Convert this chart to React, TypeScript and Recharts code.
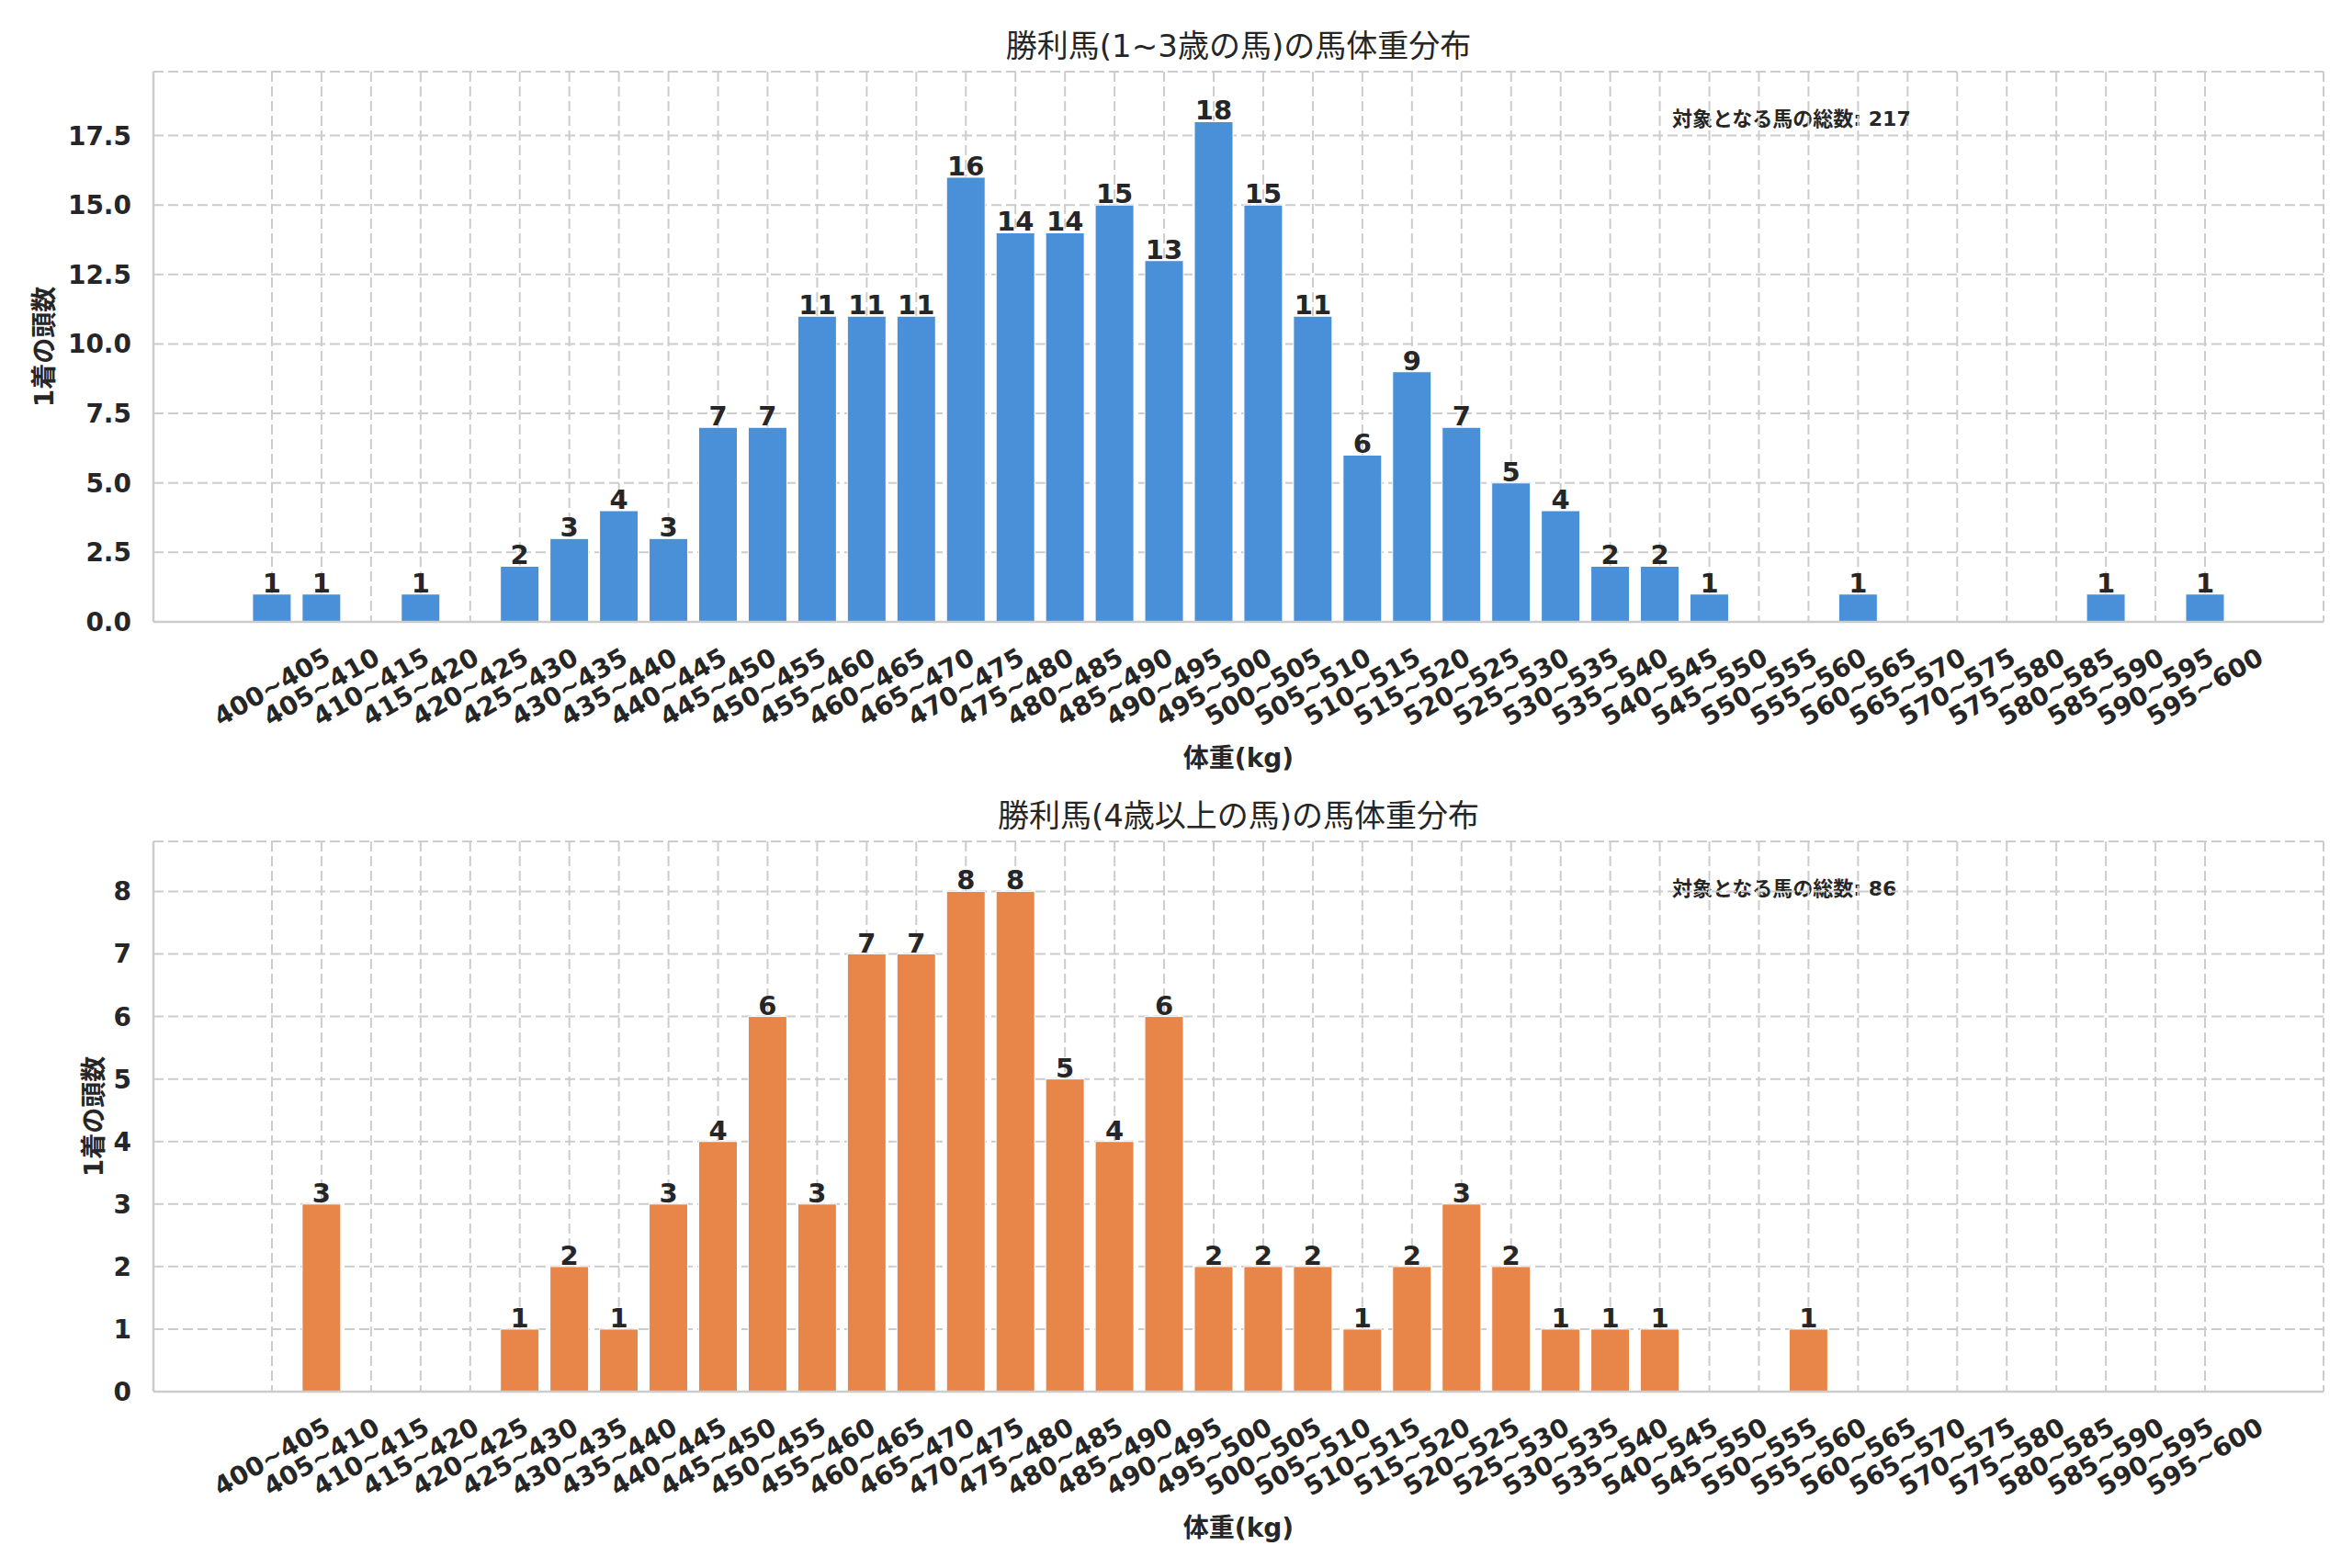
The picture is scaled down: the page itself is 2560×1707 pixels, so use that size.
import { BarChart, Bar, XAxis, YAxis, CartesianGrid, LabelList } from 'recharts'

const BINS = [
  '400~405', '405~410', '410~415', '415~420', '420~425', '425~430', '430~435', '435~440',
  '440~445', '445~450', '450~455', '455~460', '460~465', '465~470', '470~475', '475~480',
  '480~485', '485~490', '490~495', '495~500', '500~505', '505~510', '510~515', '515~520',
  '520~525', '525~530', '530~535', '535~540', '540~545', '545~550', '550~555', '555~560',
  '560~565', '565~570', '570~575', '575~580', '580~585', '585~590', '590~595', '595~600',
]

// 1~3 years
const YOUNG_COUNTS = [
  1, 1, 0, 1, 0, 2, 3, 4, 3, 7, 7, 11, 11, 11, 16, 14, 14, 15, 13, 18,
  15, 11, 6, 9, 7, 5, 4, 2, 2, 1, 0, 0, 1, 0, 0, 0, 0, 1, 0, 1,
]

// 4 years and over
const OLD_COUNTS = [
  0, 3, 0, 0, 0, 1, 2, 1, 3, 4, 6, 3, 7, 7, 8, 8, 5, 4, 6, 2,
  2, 2, 1, 2, 3, 2, 1, 1, 1, 0, 0, 1, 0, 0, 0, 0, 0, 0, 0, 0,
]

const YOUNG_TICKS = [0, 2.5, 5, 7.5, 10, 12.5, 15, 17.5]
const OLD_TICKS = [0, 1, 2, 3, 4, 5, 6, 7, 8]

const TEXT = '#262626'
const EDGE = '#cccccc'
const FONT = "'DejaVu Sans', 'Noto Sans CJK JP', sans-serif"

function XTick({ x, y, payload }: any) {
  return (
    <g transform={`translate(${x},${y + 71})`}>
      <text
        transform="rotate(-30)"
        textAnchor="middle"
        dominantBaseline="central"
        fontSize={28}
        fontWeight="bold"
        fill={TEXT}
      >
        {payload.value}
      </text>
    </g>
  )
}

interface PanelProps {
  top: number
  title: string
  note: string
  counts: number[]
  color: string
  ticks: number[]
  yMax: number
  decimals: number
  yLabelX: number
}

function Panel({ top, title, note, counts, color, ticks, yMax, decimals, yLabelX }: PanelProps) {
  const data = BINS.map((bin, i) => ({ bin, count: counts[i] }))

  return (
    <div style={{ position: 'absolute', left: 0, top, width: 2560, height: 853 }}>
      <div
        style={{
          position: 'absolute',
          left: 167,
          width: 2362,
          top: 50,
          transform: 'translateY(-50%)',
          textAlign: 'center',
          fontSize: 34,
          color: TEXT,
          lineHeight: 1,
        }}
      >
        {title}
      </div>
      <div
        style={{
          position: 'absolute',
          left: 1820,
          top: 130,
          transform: 'translateY(-50%)',
          fontSize: 22,
          fontWeight: 'bold',
          color: TEXT,
          lineHeight: 1,
          whiteSpace: 'nowrap',
        }}
      >
        {note}
      </div>
      <BarChart
        width={2560}
        height={853}
        data={data}
        margin={{ top: 78, right: 31, bottom: 0, left: 0 }}
        barCategoryGap="11%"
      >
        <CartesianGrid stroke={EDGE} strokeWidth={2} strokeDasharray="11 5" />
        <XAxis
          dataKey="bin"
          interval={0}
          height={176}
          padding={{ left: 102, right: 102 }}
          tickLine={false}
          tickSize={0}
          tickMargin={0}
          axisLine={{ stroke: EDGE, strokeWidth: 2.5 }}
          tick={<XTick />}
          label={{
            value: '体重(kg)',
            position: 'insideBottom',
            offset: 18,
            fill: TEXT,
            fontSize: 28,
            fontWeight: 'bold',
          }}
        />
        <XAxis
          xAxisId="frame"
          dataKey="bin"
          orientation="top"
          height={0}
          tick={false}
          tickLine={false}
          axisLine={{ stroke: EDGE, strokeWidth: 2.5 }}
        />
        <YAxis
          width={167}
          domain={[0, yMax]}
          ticks={ticks}
          tickLine={false}
          tickSize={0}
          tickMargin={24}
          axisLine={{ stroke: EDGE, strokeWidth: 2.5 }}
          tickFormatter={(v: number) => v.toFixed(decimals)}
          tick={{ fill: TEXT, fontSize: 28, fontWeight: 'bold' }}
          label={{
            value: '1着の頭数',
            angle: -90,
            position: 'insideLeft',
            offset: yLabelX,
            fill: TEXT,
            fontSize: 28,
            fontWeight: 'bold',
            style: { textAnchor: 'middle' },
          }}
        />
        <YAxis
          yAxisId="frame"
          orientation="right"
          width={0}
          tick={false}
          tickLine={false}
          axisLine={{ stroke: EDGE, strokeWidth: 2.5 }}
        />
        <Bar dataKey="count" fill={color} stroke="#ffffff" strokeWidth={1} isAnimationActive={false}>
          <LabelList
            dataKey="count"
            position="top"
            offset={2}
            formatter={(v: any) => (v ? v : '')}
            fill={TEXT}
            fontSize={29}
            fontWeight="bold"
          />
        </Bar>
      </BarChart>
    </div>
  )
}

export default function App() {
  return (
    <div
      style={{
        position: 'relative',
        width: 2560,
        height: 1707,
        background: '#ffffff',
        fontFamily: FONT,
      }}
    >
      <style>{'body { margin: 0; }'}</style>
      <Panel
        top={0}
        title="勝利馬(1~3歳の馬)の馬体重分布"
        note="対象となる馬の総数: 217"
        counts={YOUNG_COUNTS}
        color="#4a90d9"
        ticks={YOUNG_TICKS}
        yMax={19.8}
        decimals={1}
        yLabelX={48}
      />
      <Panel
        top={838}
        title="勝利馬(4歳以上の馬)の馬体重分布"
        note="対象となる馬の総数: 86"
        counts={OLD_COUNTS}
        color="#e8864a"
        ticks={OLD_TICKS}
        yMax={8.8}
        decimals={0}
        yLabelX={102}
      />
    </div>
  )
}
